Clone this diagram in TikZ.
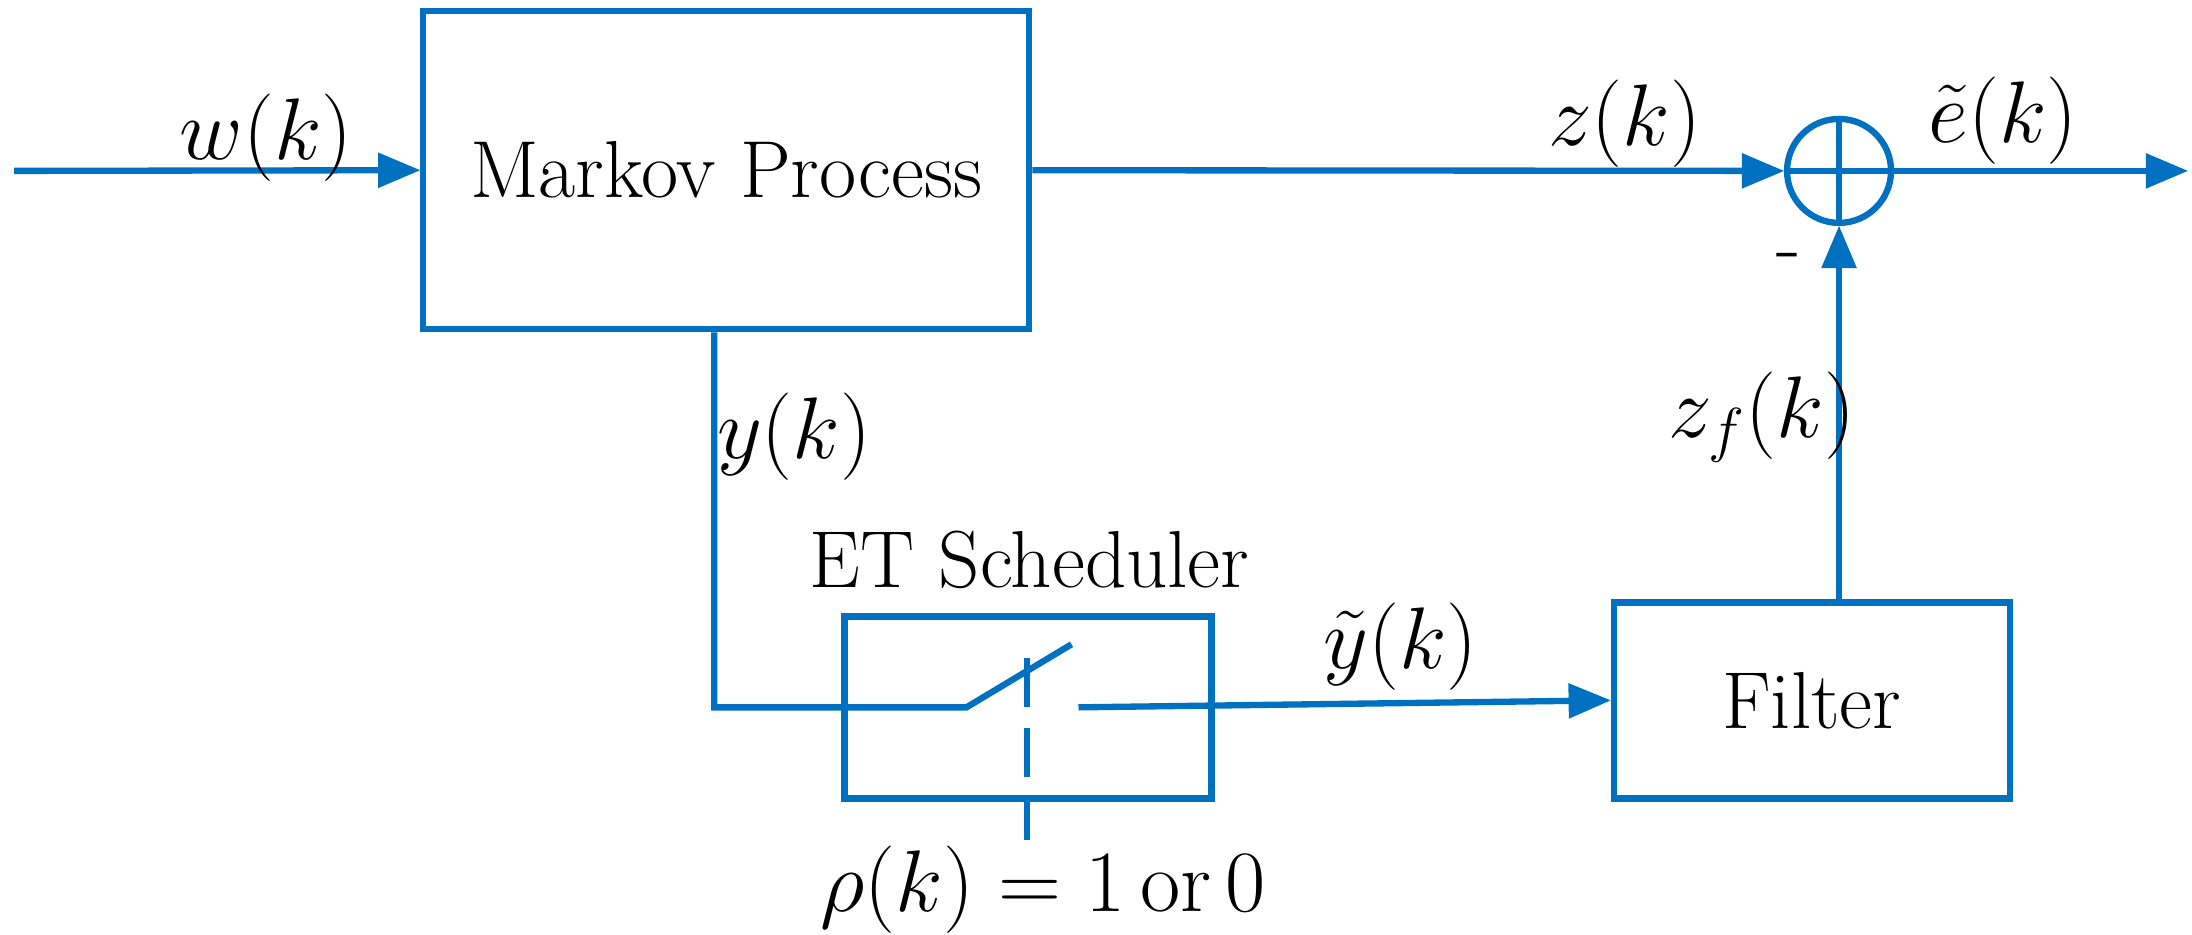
\documentclass[tikz,border=0pt]{standalone}
\usepackage{amsmath}
\usepackage{tikz}
\usetikzlibrary{arrows,shapes}
\definecolor{lineblue}{RGB}{0,112,192}
\begin{document}
\begin{tikzpicture}[x=0.014cm,y=-0.014cm,
    blk/.style={draw=lineblue,line width=1.8pt,rectangle},
    sig/.style={draw=lineblue,line width=1.8pt,-triangle 45},
    wire/.style={draw=lineblue,line width=1.8pt},
    lbl/.style={font=\fontsize{23}{27}\selectfont}]
\path [use as bounding box] (0,0) rectangle (1565,667);
% blocks
\node [blk,minimum width=6.06cm,minimum height=3.18cm,lbl] (markov) at (518.5,121.5) {Markov Process};
\node [blk,minimum width=3.67cm,minimum height=1.82cm] (et) at (734,505) {};
\node [blk,minimum width=3.96cm,minimum height=1.96cm,lbl] (filter) at (1293.5,500) {Filter};
\node [draw=lineblue,line width=1.8pt,circle,minimum size=1.04cm,inner sep=0pt] (sum) at (1313,122) {};
\draw [wire] (sum.north) -- (sum.south) (sum.west) -- (sum.east);
% points
\coordinate (in) at (10,122);
\coordinate (out) at (1562,122);
\coordinate (ycorner) at (510,505);
\coordinate (swa) at (690,505);
\coordinate (swb) at (765,460);
\coordinate (swc) at (770,505);
% connectors
\draw [sig] (in) -- (markov.west);
\draw [sig] (markov.east) -- (sum.west);
\draw [sig] (sum.east) -- (out);
\draw [wire] (markov.south -| ycorner) -- (ycorner) -- (swa) -- (swb);
\draw [sig] (swc) -- (filter.west);
\draw [sig] (filter.north -| sum) -- (sum.south);
\draw [wire,dash pattern=on 0.49cm off 0.21cm] (733,470) -- (733,600);
% labels
\node [lbl] (wlab) at (190,98) {$w(k)$};
\node [lbl] (zlab) at (1160,88) {$z(k)$};
\node [lbl] (elab) at (1430,86) {$\tilde{e}(k)$};
\node [lbl] (ylab) at (567,312) {$y(k)$};
\node [lbl] (etlab) at (735,400) {ET Scheduler};
\node [lbl] (ytlab) at (1000,462) {$\tilde{y}(k)$};
\node [lbl] (zflab) at (1258,298) {$z_f(k)$};
\node [lbl] (minus) at (1277,188) {-};
\node [lbl] (rholab) at (745,635) {$\rho(k)=1\,\mathrm{or}\,0$};
\end{tikzpicture}
\end{document}
